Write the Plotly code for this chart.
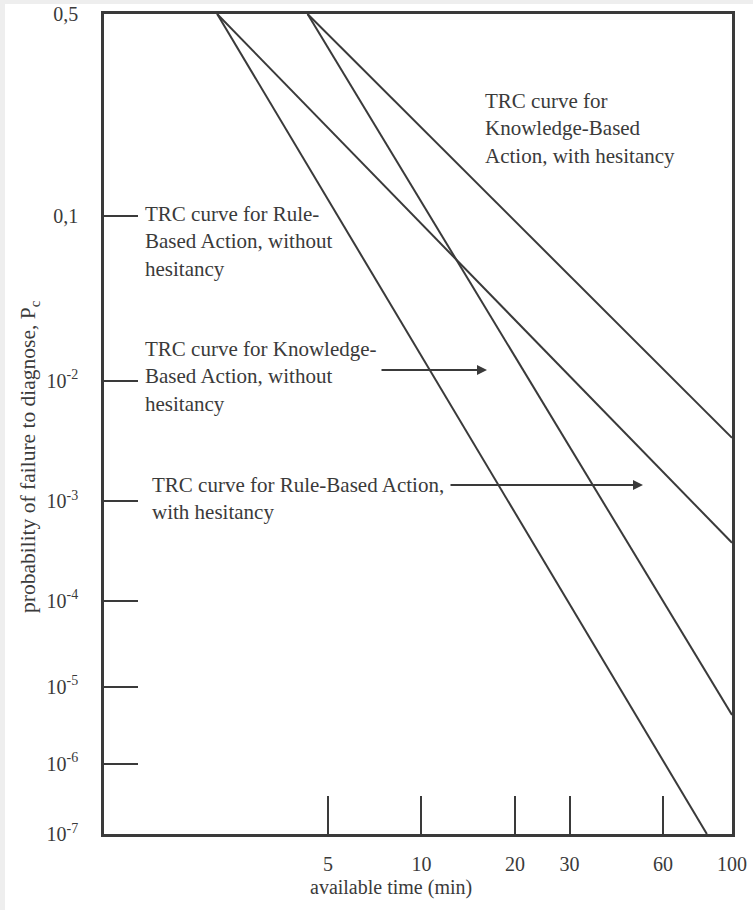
import plotly.graph_objects as go
from statistics import NormalDist

# ---------------- data ----------------
curve_names = [
    "TRC curve for Rule-Based Action, without hesitancy",
    "TRC curve for Knowledge-Based Action, without hesitancy",
    "TRC curve for Rule-Based Action, with hesitancy",
    "TRC curve for Knowledge-Based Action, with hesitancy",
]
t_start = [2.2, 2.2, 4.3, 4.3]          # available time (min) where P = 0.5
p_start = [0.5, 0.5, 0.5, 0.5]
t_end = [83.0, 100.0, 100.0, 100.0]     # available time (min) at end of curve
p_end = [1e-7, 4.0e-4, 4.4e-6, 3.6e-3]

x_tick_vals = [5, 10, 20, 30, 60, 100]
x_tick_text = ["5", "10", "20", "30", "60", "100"]
y_tick_vals = [0.5, 0.1, 1e-2, 1e-3, 1e-4, 1e-5, 1e-6, 1e-7]
y_tick_text = ["0,5", "0,1", "10<sup>-2</sup>", "10<sup>-3</sup>", "10<sup>-4</sup>",
               "10<sup>-5</sup>", "10<sup>-6</sup>", "10<sup>-7</sup>"]

# ---------------- probability-paper scale (normal / probit) ----------------
ND = NormalDist()
def probit(p):
    return -ND.inv_cdf(p)

# ---------------- layout constants ----------------
W_FIG, H_FIG = 753, 910
L, R, T, B = 104, 732, 14, 834
PW, PH = R - L, B - T
def px_x(px):
    return (px - L) / PW
def px_y(py):
    return (B - py) / PH

INK = "#3a3a3a"
CLEAR = "rgba(0,0,0,0)"
FONT = "Liberation Serif, Times New Roman, serif"

fig = go.Figure()
for name, t0, p0, t1, p1 in zip(curve_names, t_start, p_start, t_end, p_end):
    fig.add_trace(go.Scatter(
        x=[t0, t1], y=[probit(p0), probit(p1)], mode="lines", name=name,
        line=dict(color=INK, width=2), showlegend=False, hoverinfo="skip"))

y_pos = [probit(v) for v in y_tick_vals]

# major ticks: transparent outside ticks only to offset labels;
# minor ticks: the visible inward tick marks
fig.update_xaxes(
    type="log", range=[-0.022, 2], tickmode="array",
    tickvals=x_tick_vals, ticktext=x_tick_text,
    ticks="outside", ticklen=10, tickwidth=1, tickcolor=CLEAR,
    minor=dict(ticks="inside", tickmode="array", tickvals=x_tick_vals[:-1],
               ticklen=38, tickwidth=2, tickcolor=INK, showgrid=False),
    showline=True, linecolor=INK, linewidth=2.5, mirror=True,
    showgrid=False, zeroline=False, automargin=False,
    tickfont=dict(family=FONT, size=20, color=INK))
fig.update_yaxes(
    range=[probit(1e-7), probit(0.5)], tickmode="array",
    tickvals=y_pos, ticktext=y_tick_text,
    ticks="outside", ticklen=19, tickwidth=1, tickcolor=CLEAR,
    minor=dict(ticks="inside", tickmode="array", tickvals=y_pos[1:-1],
               ticklen=34, tickwidth=2, tickcolor=INK, showgrid=False),
    showline=True, linecolor=INK, linewidth=2.5, mirror=True,
    showgrid=False, zeroline=False, automargin=False,
    tickfont=dict(family=FONT, size=20, color=INK))

ann_font = dict(family=FONT, size=21, color=INK)
labels = [
    ("TRC curve for Rule-<br>Based Action, without<br>hesitancy", 143, 241),
    ("TRC curve for Knowledge-<br>Based Action, without<br>hesitancy", 143, 377),
    ("TRC curve for Rule-Based Action,<br>with hesitancy", 150, 498),
    ("TRC curve for<br>Knowledge-Based<br>Action, with hesitancy", 483, 128),
]
for txt, x, y in labels:
    fig.add_annotation(text=txt, xref="paper", yref="paper", x=px_x(x), y=px_y(y),
                       xanchor="left", yanchor="middle", align="left",
                       showarrow=False, font=ann_font)

arrows = [(380, 487, 370), (449, 643, 485)]
for x0, x1, y in arrows:
    fig.add_annotation(text="", xref="paper", yref="paper", x=px_x(x1), y=px_y(y),
                       ax=x0 - x1, ay=0, axref="pixel", ayref="pixel",
                       showarrow=True, arrowhead=2, arrowsize=1, arrowwidth=2,
                       arrowcolor=INK, standoff=0, startstandoff=0)

fig.add_annotation(text="available time (min)", xref="paper", yref="paper",
                   x=px_x(391), y=px_y(887), xanchor="center", yanchor="middle",
                   showarrow=False, font=dict(family=FONT, size=20, color=INK))
fig.add_annotation(text="probability of failure to diagnose, P<sub>c</sub>",
                   xref="paper", yref="paper", x=px_x(29), y=px_y(457),
                   xanchor="center", yanchor="middle", textangle=-90,
                   showarrow=False, font=dict(family=FONT, size=21.5, color=INK))

# page frame strips (top and left)
fig.add_shape(type="rect", xref="paper", yref="paper", x0=px_x(0), x1=px_x(W_FIG),
              y0=px_y(4), y1=px_y(0), fillcolor="#eeeeee", line_width=0, layer="below")
fig.add_shape(type="rect", xref="paper", yref="paper", x0=px_x(0), x1=px_x(5),
              y0=px_y(H_FIG), y1=px_y(0), fillcolor="#eeeeee", line_width=0, layer="below")

fig.update_layout(
    width=W_FIG, height=H_FIG, margin=dict(l=L, r=W_FIG - R, t=T, b=H_FIG - B),
    font=dict(family=FONT, size=20, color=INK),
    paper_bgcolor="white", plot_bgcolor="white", showlegend=False)

fig.write_html("out.html")
